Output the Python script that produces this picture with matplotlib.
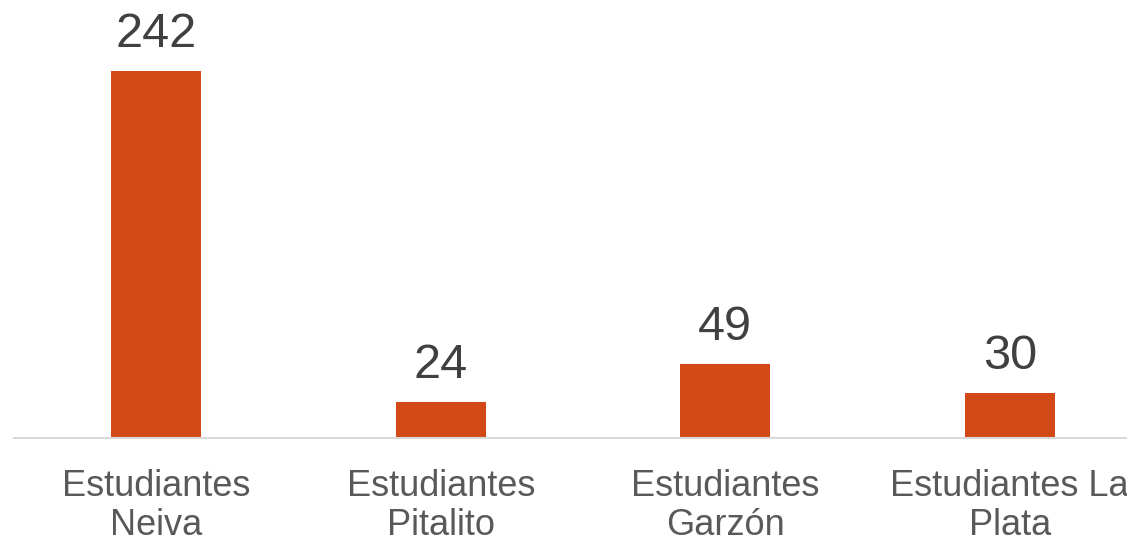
import matplotlib.pyplot as plt

categorias = ['Estudiantes\nNeiva', 'Estudiantes\nPitalito', 'Estudiantes\nGarzón', 'Estudiantes La\nPlata']
valores = [242, 24, 49, 30]

plt.rcParams['font.family'] = ['Liberation Sans', 'DejaVu Sans']

fig = plt.figure(figsize=(11.27, 5.40), dpi=100)
# plot area runs past the right edge, like the original
ax = fig.add_axes([14 / 1127, 1 - 438 / 540, 1138 / 1127, 367 / 540 * 250 / 242])

x = range(len(valores))
bars = ax.bar(x, valores, width=0.316, color='#D34817')
ax.set_xlim(-0.5, 3.5)
ax.set_ylim(0, 250)

for b, v in zip(bars, valores):
    ax.annotate(str(v), (b.get_x() + b.get_width() / 2, v), xytext=(0, 10),
                textcoords='offset points', ha='center', va='bottom',
                fontsize=35, color='#404040')

ax.set_xticks(list(x))
ax.set_xticklabels(categorias, fontsize=26, color='#595959', linespacing=1.17)
ax.tick_params(axis='x', length=0, pad=22)
ax.set_yticks([])
for s in ['top', 'right', 'left']:
    ax.spines[s].set_visible(False)
ax.spines['bottom'].set_color('#D9D9D9')
ax.spines['bottom'].set_linewidth(1.5)
ax.patch.set_alpha(0)

fig.savefig('out.png', dpi=100)
